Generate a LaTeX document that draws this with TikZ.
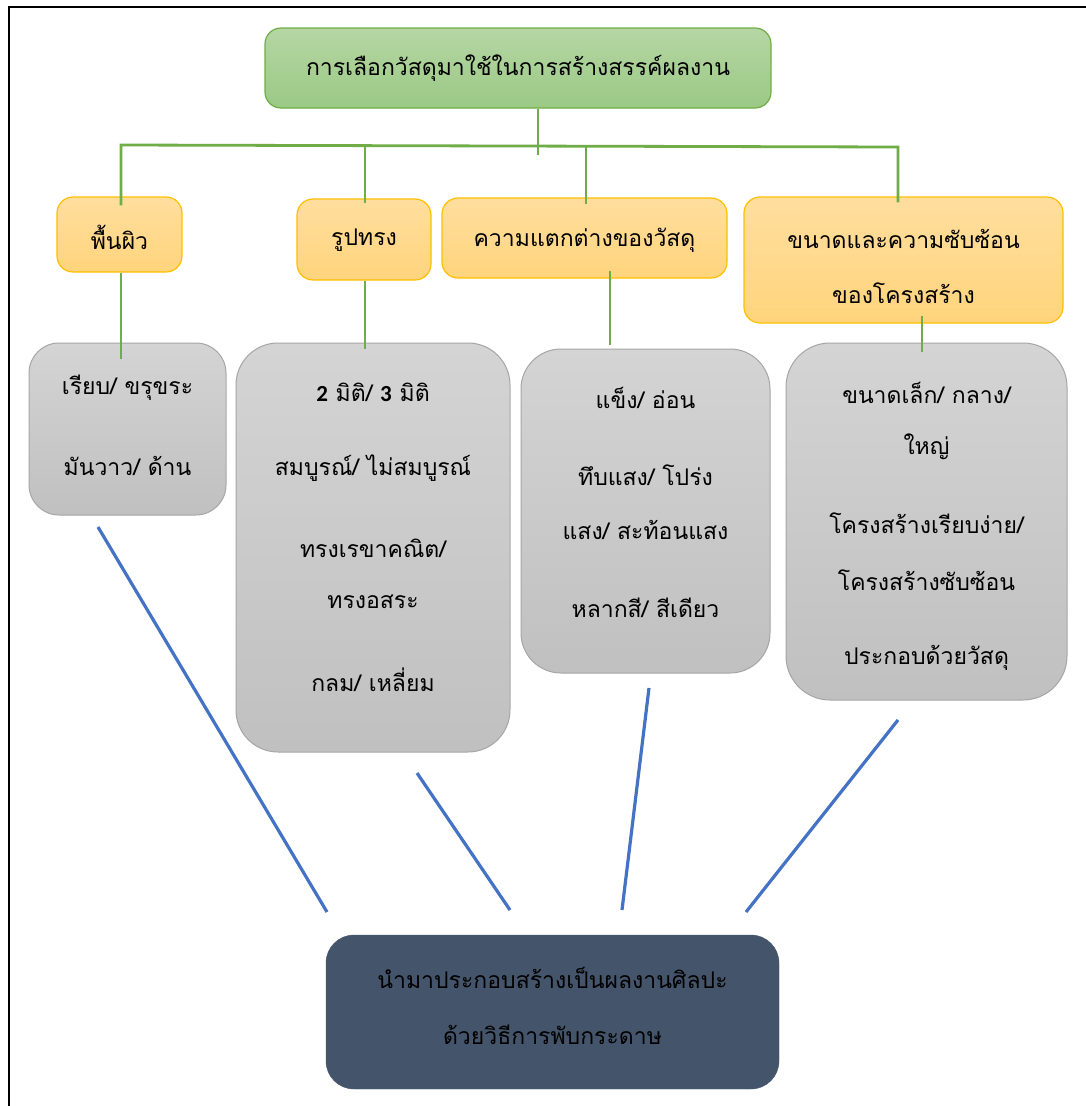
\documentclass[tikz,border=0pt]{standalone}
\usepackage{fontspec}
\newfontfamily\thai[Script=Thai]{Loma}
\newfontfamily\calib{Carlito}
\definecolor{gtop}{HTML}{B5D6A4}
\definecolor{gbot}{HTML}{9BC985}
\definecolor{gline}{HTML}{70AD47}
\definecolor{otop}{HTML}{FFDE9E}
\definecolor{obot}{HTML}{FFD47C}
\definecolor{oline}{HTML}{FFC000}
\definecolor{ytop}{HTML}{D4D4D4}
\definecolor{ybot}{HTML}{C0C0C0}
\definecolor{yline}{HTML}{A6A6A6}
\definecolor{navy}{HTML}{44546A}
\definecolor{blueline}{HTML}{4472C4}
\begin{document}
\begin{tikzpicture}[x=1pt,y=-1pt,
  greenbox/.style={draw=gline,line width=1.2pt,rounded corners=16pt,top color=gtop,bottom color=gbot,inner sep=0pt},
  orangebox/.style={draw=oline,line width=1.2pt,rounded corners=16pt,top color=otop,bottom color=obot,inner sep=0pt},
  greybox/.style={draw=yline,line width=1pt,rounded corners=36pt,top color=ytop,bottom color=ybot,inner sep=0pt},
  darkbox/.style={fill=navy,draw=navy,rounded corners=28pt,inner sep=0pt},
  txt/.style={font=\thai\fontsize{23}{28}\selectfont,inner sep=0pt,text=black},
  gconn/.style={draw=gline,line width=2.8pt},
  bconn/.style={draw=blueline,line width=3.2pt}]
\useasboundingbox (0,0) rectangle (1086,1106);
\fill[white] (0,0) rectangle (1086,1106);
% frame
\draw[line width=2pt,black] (9,1110) -- (9,7) -- (1090,7);

% boxes
\node[greenbox,minimum width=506,minimum height=80] (top) at (518,68) {};
\node[orangebox,minimum width=125,minimum height=75] (o1) at (119.5,234.5) {};
\node[orangebox,minimum width=134,minimum height=81] (o2) at (364,239.5) {};
\node[orangebox,minimum width=285,minimum height=80] (o3) at (584.5,238) {};
\node[orangebox,minimum width=319,minimum height=126] (o4) at (903.5,260) {};
\node[greybox,minimum width=197,minimum height=172,rounded corners=30pt] (g1) at (127.5,429) {};
\node[greybox,minimum width=274,minimum height=409,rounded corners=42pt] (g2) at (373,547.5) {};
\node[greybox,minimum width=249,minimum height=324,rounded corners=40pt] (g3) at (645.5,511) {};
\node[greybox,minimum width=281,minimum height=357,rounded corners=44pt] (g4) at (926.5,521.5) {};
\node[darkbox,minimum width=453,minimum height=154] (bot) at (552.5,1012) {};

% texts
\node[txt] (ttop) at (518,68) {การเลือกวัสดุมาใช้ในการสร้างสรรค์ผลงาน};
\node[txt] (to1) at (119.5,237) {พื้นผิว};
\node[txt] (to2) at (364,240) {รูปทรง};
\node[txt] (to3) at (584.5,240) {ความแตกต่างของวัสดุ};
\node[txt] (to4a) at (903.5,239) {ขนาดและความซับซ้อน};
\node[txt] (to4b) at (903.5,293) {ของโครงสร้าง};

\node[txt] (tg1a) at (127.5,388) {เรียบ/ ขรุขระ};
\node[txt] (tg1b) at (127.5,466) {มันวาว/ ด้าน};

\node[txt] (tg2a) at (373,392) {{\calib\bfseries 2} มิติ/ {\calib\bfseries 3} มิติ};
\node[txt] (tg2b) at (373,468) {สมบูรณ์/ ไม่สมบูรณ์};
\node[txt] (tg2c) at (373,548) {ทรงเรขาคณิต/};
\node[txt] (tg2d) at (373,602) {ทรงอสระ};
\node[txt] (tg2e) at (373,680) {กลม/ เหลี่ยม};

\node[txt] (tg3a) at (645.5,398) {แข็ง/ อ่อน};
\node[txt] (tg3b) at (645.5,475) {ทึบแสง/ โปร่ง};
\node[txt] (tg3c) at (645.5,530) {แสง/ สะท้อนแสง};
\node[txt] (tg3d) at (645.5,608) {หลากสี/ สีเดียว};

\node[txt] (tg4a) at (926.5,393) {ขนาดเล็ก/ กลาง/};
\node[txt] (tg4b) at (926.5,447) {ใหญ่};
\node[txt] (tg4c) at (926.5,523) {โครงสร้างเรียบง่าย/};
\node[txt] (tg4d) at (926.5,580) {โครงสร้างซับซ้อน};
\node[txt] (tg4e) at (926.5,658) {ประกอบด้วยวัสดุ};

\node[txt] (tb1) at (552.5,978) {นำมาประกอบสร้างเป็นผลงานศิลปะ};
\node[txt] (tb2) at (552.5,1035) {ด้วยวิธีการพับกระดาษ};

% green connectors
\coordinate (topdrop) at (538,155);
\coordinate (busL) at (121,145);
\coordinate (busR) at (898,147);
\draw[gconn] (top.south -| topdrop) -- (topdrop);
\draw[gconn] ([yshift=-9]o1.north -| busL) -- (busL) -- (busR) -- ([yshift=-6]o4.north -| busR);
\draw[gconn] ([yshift=-5]o2.north -| 365,0) -- (365,145.6);
\draw[gconn] ([yshift=-7]o3.north -| 586,0) -- (586,146.3);
\draw[gconn] (o1.south -| busL) -- ([yshift=-16]g1.north -| busL);
\draw[gconn] (o2.south -| 365,0) -- ([yshift=-6]g2.north -| 365,0);
\draw[gconn] ([yshift=8]o3.south -| 610,0) -- ([yshift=4]g3.north -| 610,0);
\draw[gconn] ([yshift=8]o4.south -| 922,0) -- ([yshift=-9]g4.north -| 922,0);

% blue connectors
\coordinate (b1s) at (98,527);  \coordinate (b1e) at (327,912);
\coordinate (b2s) at (417,773); \coordinate (b2e) at (510,910);
\coordinate (b3s) at (649,688); \coordinate (b3e) at (622,910);
\coordinate (b4s) at (898,720); \coordinate (b4e) at (746,912);
\draw[bconn] (b1s) -- (b1e);
\draw[bconn] (b2s) -- (b2e);
\draw[bconn] (b3s) -- (b3e);
\draw[bconn] (b4s) -- (b4e);
\end{tikzpicture}
\end{document}
